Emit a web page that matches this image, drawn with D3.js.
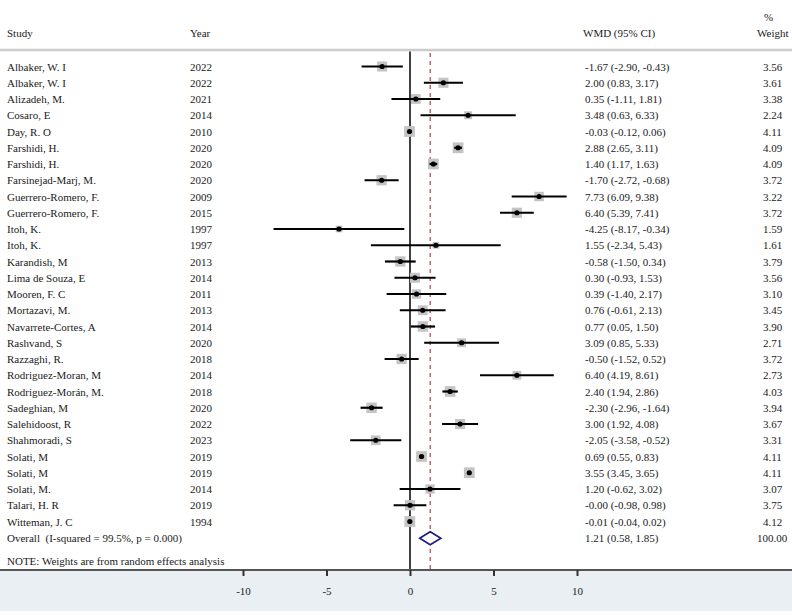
<!DOCTYPE html>
<html><head><meta charset="utf-8">
<script src="https://cdn.jsdelivr.net/npm/d3@7"></script>
<style>body{margin:0;background:#fff}svg{display:block}text{font-family:"Liberation Serif","Times New Roman",serif;fill:#1a1a1a;white-space:pre}</style>
</head><body><svg id="c" width="792" height="615"></svg>
<script>
const studies=["Albaker, W. I","Albaker, W. I","Alizadeh, M.","Cosaro, E","Day, R. O","Farshidi, H.","Farshidi, H.","Farsinejad-Marj, M.","Guerrero-Romero, F.","Guerrero-Romero, F.","Itoh, K.","Itoh, K.","Karandish, M","Lima de Souza, E","Mooren, F. C","Mortazavi, M.","Navarrete-Cortes, A","Rashvand, S","Razzaghi, R.","Rodriguez-Moran, M","Rodriguez-Morán, M.","Sadeghian, M","Salehidoost, R","Shahmoradi, S","Solati, M","Solati, M","Solati, M.","Talari, H. R","Witteman, J. C"];
const years=["2022","2022","2021","2014","2010","2020","2020","2020","2009","2015","1997","1997","2013","2014","2011","2013","2014","2020","2018","2014","2018","2020","2022","2023","2019","2019","2014","2019","1994"];
const wmd=[-1.67,2.00,0.35,3.48,-0.03,2.88,1.40,-1.70,7.73,6.40,-4.25,1.55,-0.58,0.30,0.39,0.76,0.77,3.09,-0.50,6.40,2.40,-2.30,3.00,-2.05,0.69,3.55,1.20,-0.00,-0.01];
const lower=[-2.90,0.83,-1.11,0.63,-0.12,2.65,1.17,-2.72,6.09,5.39,-8.17,-2.34,-1.50,-0.93,-1.40,-0.61,0.05,0.85,-1.52,4.19,1.94,-2.96,1.92,-3.58,0.55,3.45,-0.62,-0.98,-0.04];
const upper=[-0.43,3.17,1.81,6.33,0.06,3.11,1.63,-0.68,9.38,7.41,-0.34,5.43,0.34,1.53,2.17,2.13,1.50,5.33,0.52,8.61,2.86,-1.64,4.08,-0.52,0.83,3.65,3.02,0.98,0.02];
const weights=["3.56","3.61","3.38","2.24","4.11","4.09","4.09","3.72","3.22","3.72","1.59","1.61","3.79","3.56","3.10","3.45","3.90","2.71","3.72","2.73","4.03","3.94","3.67","3.31","4.11","4.11","3.07","3.75","4.12"];
const overall={label:"Overall  (I-squared = 99.5%, p = 0.000)",est:1.21,lo:0.58,hi:1.85,ci:"1.21 (0.58, 1.85)",weight:"100.00"};
const tickVals=[-10,-5,0,5,10];

const svg=d3.select("#c");
const x=d3.scaleLinear().domain([-10,10]).range([243,577]);
const y=d3.scaleLinear().domain([0,1]).range([66.5,82.75]);
const fmt=v=>(v<0||Object.is(v,-0)?"-":"")+Math.abs(v).toFixed(2);
const fs=11;

// bottom background
svg.append("rect").attr("x",0).attr("y",571).attr("width",792).attr("height",40).attr("fill","#e9eff2");
// header
const hdr=svg.append("g").attr("font-size",fs);
hdr.append("text").attr("x",7).attr("y",37).text("Study");
hdr.append("text").attr("x",190).attr("y",37).text("Year");
hdr.append("text").attr("x",583).attr("y",37).text("WMD (95% CI)");
hdr.append("text").attr("x",764).attr("y",21).text("%");
hdr.append("text").attr("x",757).attr("y",37).text("Weight");
svg.append("line").attr("x1",0).attr("x2",792).attr("y1",50).attr("y2",50).attr("stroke","#cccccc").attr("stroke-width",2.5);

// reference lines
svg.append("line").attr("x1",x(0)).attr("x2",x(0)).attr("y1",51.5).attr("y2",570).attr("stroke","#111").attr("stroke-width",1.6);
svg.append("line").attr("x1",x(overall.est)).attr("x2",x(overall.est)).attr("y1",53).attr("y2",570).attr("stroke","#b04050").attr("stroke-width",1.2).attr("stroke-dasharray","4,4");

// rows
const rows=svg.append("g");
studies.forEach((s,i)=>{
  const yy=y(i);
  const side=5.3*Math.sqrt(+weights[i]);
  rows.append("rect").attr("x",x(wmd[i])-side/2).attr("y",yy-side/2).attr("width",side).attr("height",side).attr("fill","#c4c4c4");
  rows.append("line").attr("x1",x(lower[i])).attr("x2",x(upper[i])).attr("y1",yy).attr("y2",yy).attr("stroke","#000").attr("stroke-width",2.2);
  rows.append("circle").attr("cx",x(wmd[i])).attr("cy",yy).attr("r",2.6).attr("fill","#000");
  rows.append("text").attr("x",7).attr("y",yy+4).attr("font-size",fs).text(s);
  rows.append("text").attr("x",190).attr("y",yy+4).attr("font-size",fs).text(years[i]);
  rows.append("text").attr("x",585).attr("y",yy+4).attr("font-size",fs).text(fmt(wmd[i])+" ("+fmt(lower[i])+", "+fmt(upper[i])+")");
  rows.append("text").attr("x",763).attr("y",yy+4).attr("font-size",fs).text(weights[i]);
});
// overall
const oy=538.3;
svg.append("path").attr("d",`M${x(overall.lo)},${oy} L${x(overall.est)},${oy-6.5} L${x(overall.hi)},${oy} L${x(overall.est)},${oy+6.5} Z`).attr("fill","#fff").attr("stroke","#1a1a80").attr("stroke-width",1.6);
svg.append("text").attr("x",7).attr("y",oy+4).attr("font-size",fs).text(overall.label);
svg.append("text").attr("x",585).attr("y",oy+4).attr("font-size",fs).text(overall.ci);
svg.append("text").attr("x",757).attr("y",oy+4).attr("font-size",fs).text(overall.weight);
svg.append("text").attr("x",7).attr("y",565).attr("font-size",fs).text("NOTE: Weights are from random effects analysis");

// axis
svg.append("line").attr("x1",0).attr("x2",792).attr("y1",570).attr("y2",570).attr("stroke","#555").attr("stroke-width",1.8);
const ax=svg.append("g").attr("transform","translate(0,570)").call(d3.axisBottom(x).tickValues(tickVals).tickSize(6).tickPadding(11).tickFormat(d=>String(d)));
ax.select(".domain").remove();
ax.selectAll(".tick line").attr("stroke","#333").attr("stroke-width",2);
ax.selectAll(".tick text").attr("font-size",fs).attr("font-family","Liberation Serif").attr("fill","#1a1a1a");
</script></body></html>
